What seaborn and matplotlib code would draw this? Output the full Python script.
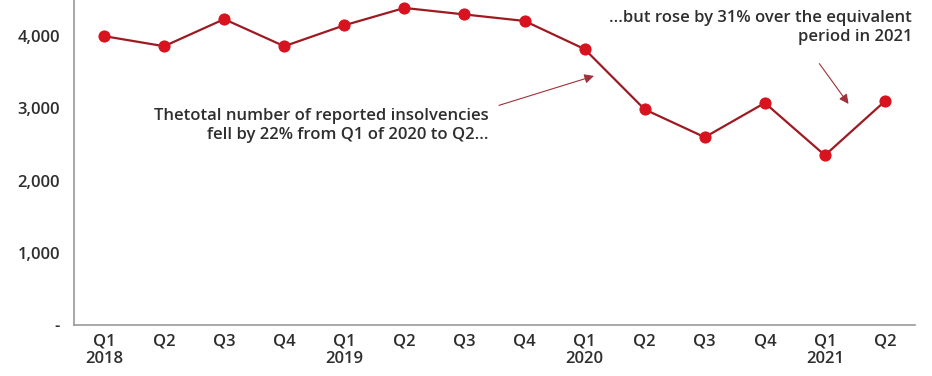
import numpy as np
import pandas as pd
import seaborn as sns
import matplotlib.pyplot as plt

# Quarterly data
quarters = ['Q1\n2018', 'Q2', 'Q3', 'Q4',
            'Q1\n2019', 'Q2', 'Q3', 'Q4',
            'Q1\n2020', 'Q2', 'Q3', 'Q4',
            'Q1\n2021', 'Q2']
insolvencies = [4000, 3860, 4235, 3860,
                4150, 4390, 4300, 4210,
                3820, 2985, 2600, 3075,
                2350, 3100]
yticks = [0, 1000, 2000, 3000, 4000]
ytick_labels = ['-', '1,000', '2,000', '3,000', '4,000']

LINE_COL = '#9e1a22'
MARK_COL = '#d8121e'
TEXT_COL = '#2e2e2e'

sns.set_theme(style='white')
plt.rcParams['font.family'] = ['Open Sans', 'DejaVu Sans']

df = pd.DataFrame({'pos': np.arange(len(quarters)), 'value': insolvencies})

fig = plt.figure(figsize=(9.32, 3.76), dpi=100)
ax = fig.add_axes([0.0794, 0.1356, 0.9024, 0.8644])

sns.lineplot(data=df, x='pos', y='value', ax=ax, color=LINE_COL, lw=1.6,
             marker='o', markersize=8, markerfacecolor=MARK_COL,
             markeredgecolor=MARK_COL)

ax.set_xlim(-0.5, len(quarters) - 0.5)
ax.set_ylim(0, 4500)
ax.set_xticks(df['pos'])
ax.set_xticklabels(quarters, fontsize=12, color=TEXT_COL, linespacing=1.15,
                   fontweight='semibold')
ax.set_yticks(yticks)
ax.set_yticklabels(ytick_labels, fontsize=12, color=TEXT_COL,
                   fontweight='semibold')
ax.tick_params(axis='x', length=0, pad=6)
ax.tick_params(axis='y', length=0, pad=10)
ax.set_xlabel('')
ax.set_ylabel('')

for side in ['top', 'right']:
    ax.spines[side].set_visible(False)
for side in ['left', 'bottom']:
    ax.spines[side].set_color('#999999')
    ax.spines[side].set_linewidth(1.2)

arrow = dict(arrowstyle='-|>', color='#a0303a', lw=0.8, mutation_scale=14)

ax.annotate('', xy=(8.2, 3460), xytext=(6.53, 3030),
            arrowprops=arrow)
ax.text(6.4, 2760, 'Thetotal number of reported insolvencies\nfell by 22% from Q1 of 2020 to Q2...',
        ha='right', va='center', fontsize=12, color=TEXT_COL, linespacing=1.3,
        fontweight='semibold')

ax.annotate('', xy=(12.42, 3030), xytext=(11.88, 3650),
            arrowprops=arrow)
ax.text(13.45, 4120, '...but rose by 31% over the equivalent\nperiod in 2021',
        ha='right', va='center', fontsize=12, color=TEXT_COL, linespacing=1.3,
        fontweight='semibold')

plt.savefig('out.png', dpi=100)
